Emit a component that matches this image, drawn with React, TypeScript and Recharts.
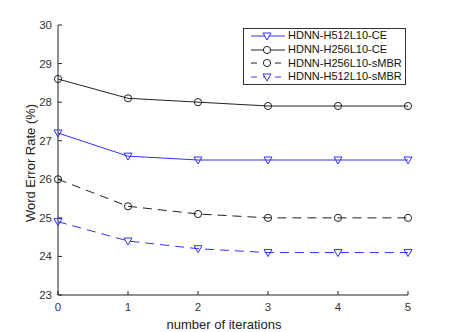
import React from "react";
import {
  LineChart,
  Line,
  XAxis,
  YAxis,
} from "recharts";

const iterations = [0, 1, 2, 3, 4, 5];
const h512Ce = [27.2, 26.6, 26.5, 26.5, 26.5, 26.5];
const h256Ce = [28.6, 28.1, 28.0, 27.9, 27.9, 27.9];
const h256Smbr = [26.0, 25.3, 25.1, 25.0, 25.0, 25.0];
const h512Smbr = [24.9, 24.4, 24.2, 24.1, 24.1, 24.1];
const yTicks = [23, 24, 25, 26, 27, 28, 29, 30];

const BLUE = "#3030ff";
const BLACK = "#222";
const FONT = "'Liberation Sans', Arial, sans-serif";

const data = iterations.map((it, i) => ({
  it,
  h512Ce: h512Ce[i],
  h256Ce: h256Ce[i],
  h256Smbr: h256Smbr[i],
  h512Smbr: h512Smbr[i],
}));

const Triangle = (color: string) => (props: any) => {
  const { cx, cy } = props;
  if (cx == null || cy == null) return null;
  return (
    <path
      d={`M${cx - 4},${cy - 3} L${cx + 4},${cy - 3} L${cx},${cy + 4} Z`}
      fill="none"
      stroke={color}
      strokeWidth={1}
    />
  );
};

const Circle = (color: string) => (props: any) => {
  const { cx, cy } = props;
  if (cx == null || cy == null) return null;
  return <circle cx={cx} cy={cy} r={3.6} fill="none" stroke={color} strokeWidth={1} />;
};

const X_MARGIN = 7;
const Y_MARGIN = 6;

const XTick = (props: any) => {
  const { x, y, payload } = props;
  const axisY = y - X_MARGIN;
  return (
    <g>
      <line x1={x} y1={axisY} x2={x} y2={axisY - 4} stroke={BLACK} />
      <text x={x} y={y + 9} textAnchor="middle" fontSize={11.5} fill="#333" fontFamily={FONT}>
        {payload.value}
      </text>
    </g>
  );
};

const YTick = (props: any) => {
  const { x, y, payload } = props;
  const axisX = x + Y_MARGIN;
  return (
    <g>
      <line x1={axisX} y1={y} x2={axisX + 4} y2={y} stroke={BLACK} />
      <text x={x} y={y + 4} textAnchor="end" fontSize={11.5} fill="#333" fontFamily={FONT}>
        {payload.value}
      </text>
    </g>
  );
};

const legendItems = [
  { label: "HDNN-H512L10-CE", color: BLUE, dash: false, marker: "tri" },
  { label: "HDNN-H256L10-CE", color: BLACK, dash: false, marker: "circ" },
  { label: "HDNN-H256L10-sMBR", color: BLACK, dash: true, marker: "circ" },
  { label: "HDNN-H512L10-sMBR", color: BLUE, dash: true, marker: "tri" },
];

const LegendBox = () => (
  <div
    style={{
      position: "absolute",
      left: 243,
      top: 28,
      width: 163,
      height: 57,
      boxSizing: "border-box",
      border: "1px solid #333",
      background: "#fff",
      padding: "0px 0px 0px 6px",
      fontFamily: FONT,
      fontSize: 11,
      color: "#111",
      lineHeight: "13.8px",
      whiteSpace: "nowrap",
      display: "flex",
      flexDirection: "column",
      justifyContent: "center",
    }}
  >
    {legendItems.map((item) => (
      <div key={item.label} style={{ display: "flex", alignItems: "center", height: 13.8 }}>
        <svg width={36} height={12} style={{ marginRight: 2, flexShrink: 0 }}>
          <line
            x1={1}
            y1={6}
            x2={35}
            y2={6}
            stroke={item.color}
            strokeDasharray={item.dash ? "6 6" : undefined}
          />
          {item.marker === "tri" ? (
            <path d="M13,3 L21,3 L17,10 Z" fill="#fff" stroke={item.color} />
          ) : (
            <circle cx={17} cy={6} r={3.6} fill="#fff" stroke={item.color} />
          )}
        </svg>
        <span>{item.label}</span>
      </div>
    ))}
  </div>
);

export default function App() {
  return (
    <div style={{ position: "absolute", left: 0, top: 0, width: 451, height: 332, background: "#fff" }}>
      <LineChart
        width={451}
        height={332}
        data={data}
        margin={{ top: 25, right: 43, bottom: 0, left: 0 }}
      >
        <XAxis
          dataKey="it"
          type="number"
          domain={[0, 5]}
          ticks={iterations}
          tickSize={0}
          tickMargin={X_MARGIN}
          tick={<XTick />}
          stroke={BLACK}
          height={37}
          label={{
            value: "number of iterations",
            position: "insideBottom",
            offset: 3,
            dx: -9,
            fontSize: 13,
            fill: "#222",
            fontFamily: FONT,
          }}
        />
        <YAxis
          type="number"
          domain={[23, 30]}
          ticks={yTicks}
          tickSize={0}
          tickMargin={Y_MARGIN}
          tick={<YTick />}
          stroke={BLACK}
          width={58}
          label={{
            value: "Word Error Rate (%)",
            angle: -90,
            position: "insideLeft",
            offset: 30,
            dy: 3,
            style: { textAnchor: "middle" },
            fontSize: 13,
            fill: "#222",
            fontFamily: FONT,
          }}
        />
        <Line
          dataKey="h512Ce"
          stroke={BLUE}
          strokeWidth={1}
          dot={Triangle(BLUE)}
          isAnimationActive={false}
        />
        <Line
          dataKey="h256Ce"
          stroke={BLACK}
          strokeWidth={1}
          dot={Circle(BLACK)}
          isAnimationActive={false}
        />
        <Line
          dataKey="h256Smbr"
          stroke={BLACK}
          strokeWidth={1}
          strokeDasharray="9 6"
          dot={Circle(BLACK)}
          isAnimationActive={false}
        />
        <Line
          dataKey="h512Smbr"
          stroke={BLUE}
          strokeWidth={1}
          strokeDasharray="9 6"
          dot={Triangle(BLUE)}
          isAnimationActive={false}
        />
      </LineChart>
      <LegendBox />
    </div>
  );
}
